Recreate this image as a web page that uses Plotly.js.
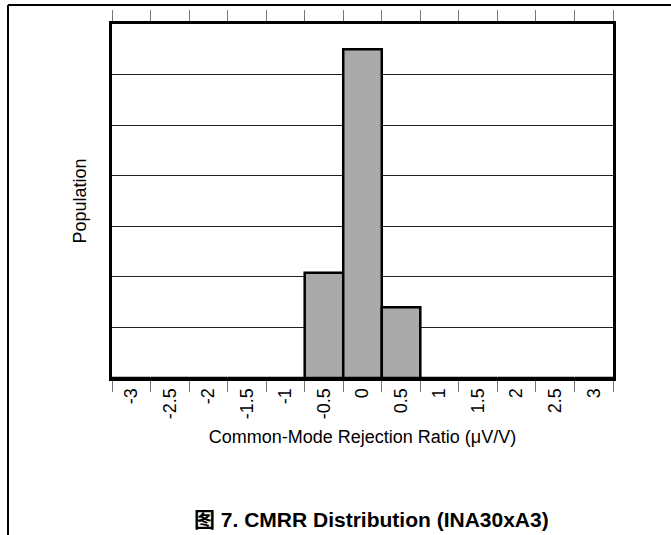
<!DOCTYPE html>
<html>
<head>
<meta charset="utf-8">
<script src="https://cdn.plot.ly/plotly-3.0.1.min.js"></script>
<style>
html,body{margin:0;padding:0;background:#fff;}
#chart{width:671px;height:535px;}
</style>
</head>
<body>
<div id="chart"></div>
<script>
// Bin labels (µV/V), bin centres
const binLabels = ["-3","-2.5","-2","-1.5","-1","-0.5","0","0.5","1","1.5","2","2.5","3"];
// Population per bin (relative units; grid step = 1)
const population = [0,0,0,0,0,2.08,6.5,1.4,0,0,0,0,0];

const W = 671, H = 535;
const L = 112, R = 613, T = 24, B = 378;
const px = x => (x - L) / (R - L);
const py = y => (B - y) / (B - T);

const trace = {
  type: 'bar',
  x: binLabels,
  y: population,
  marker: {color: '#aaaaaa', line: {color: '#000000', width: 2.5}},
  hoverinfo: 'skip'
};

const frameLine = {color: '#000000', width: 2};
const layout = {
  width: W, height: H,
  margin: {l: L, r: W - R, t: T, b: H - B, pad: 0},
  paper_bgcolor: '#ffffff',
  plot_bgcolor: '#ffffff',
  showlegend: false,
  bargap: 0,
  font: {family: 'Liberation Sans, Arial, sans-serif', color: '#000000', size: 18},
  xaxis: {
    type: 'category',
    categoryorder: 'array',
    categoryarray: binLabels,
    tickson: 'boundaries',
    ticks: 'outside',
    ticklen: 11,
    tickwidth: 1,
    tickcolor: '#777777',
    tickangle: -90,
    tickfont: {size: 18},
    showline: true,
    linewidth: 3,
    linecolor: '#000000',
    mirror: 'allticks',
    showgrid: false,
    zeroline: false,
    fixedrange: true,
    title: {text: 'Common-Mode Rejection Ratio (\u03bcV/V)', font: {size: 18}, standoff: 13}
  },
  yaxis: {
    range: [0, 7],
    dtick: 1,
    tick0: 0,
    showticklabels: false,
    ticks: '',
    showgrid: true,
    gridcolor: '#222222',
    gridwidth: 1,
    showline: true,
    linewidth: 3,
    linecolor: '#000000',
    mirror: true,
    zeroline: false,
    fixedrange: true,
    title: {text: 'Population', font: {size: 18}, standoff: 18}
  },
  annotations: [{
    xref: 'paper', yref: 'paper',
    x: px(371), y: py(519),
    xanchor: 'center', yanchor: 'middle',
    showarrow: false,
    text: '<b>图 7. CMRR Distribution (INA30xA3)</b>',
    font: {size: 21, family: 'Liberation Sans, Noto Sans CJK SC, sans-serif'}
  }],
  shapes: [
    {type: 'line', xref: 'paper', yref: 'paper', x0: px(8), x1: px(671), y0: py(5), y1: py(5), line: frameLine},
    {type: 'line', xref: 'paper', yref: 'paper', x0: px(8), x1: px(8), y0: py(5), y1: py(535), line: frameLine}
  ]
};

Plotly.newPlot('chart', [trace], layout, {staticPlot: true, displayModeBar: false});
</script>
</body>
</html>
